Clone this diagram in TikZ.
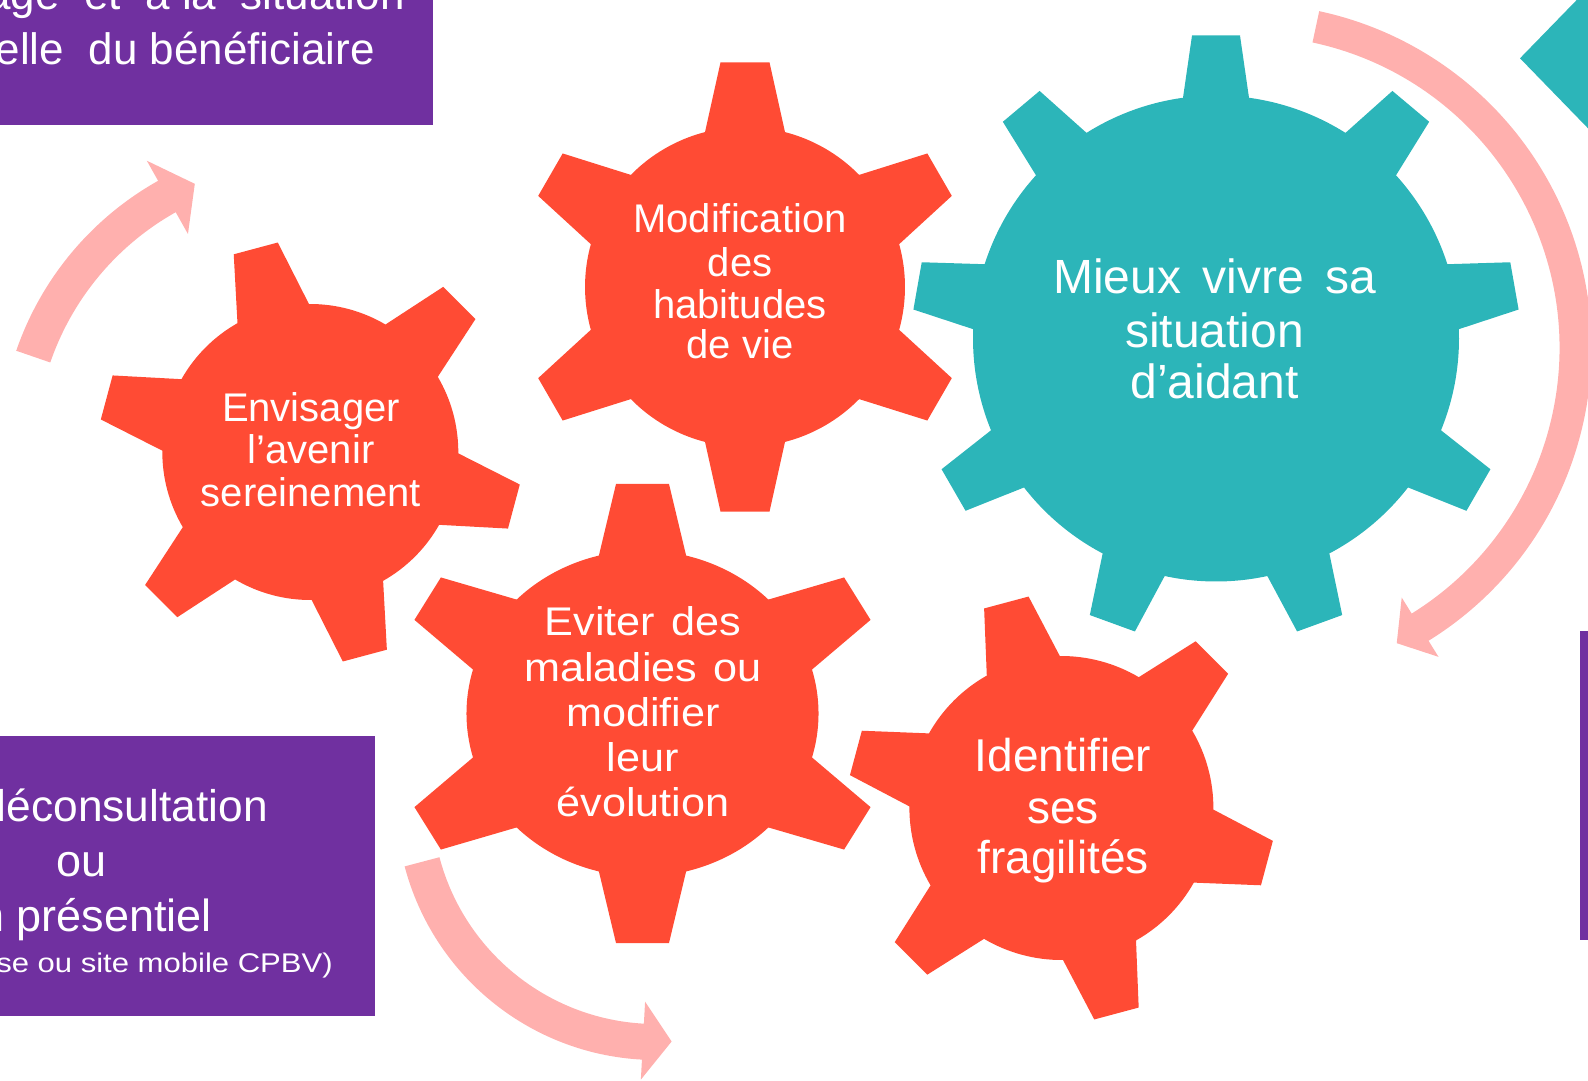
\documentclass[tikz,border=0pt]{standalone}
\usepackage{fontspec}
\setmainfont{Liberation Sans}
\definecolor{gearred}{RGB}{255,75,52}
\definecolor{gearteal}{RGB}{44,181,185}
\definecolor{boxpurple}{RGB}{112,48,160}
\definecolor{arrowpink}{RGB}{255,176,174}
% #1 scope options, #2 colour, #3 teeth, #4 tip radius, #5 body radius,
% #6 tip half width, #7 base half width, #8 angle of first tooth
\newcommand{\drawgear}[8]{%
  \begin{scope}[#1]
  \pgfmathsetmacro\gstep{360/#3}
  \pgfmathsetmacro\gat{asin(#6/#4)}
  \pgfmathsetmacro\gab{asin(#7/#5)}
  \pgfmathtruncatemacro\glast{#3-1}
  \fill[#2] ({#8-\gab}:#5)
    \foreach \k in {0,...,\glast}{
      -- ({#8+\k*\gstep-\gat}:#4) -- ({#8+\k*\gstep+\gat}:#4) -- ({#8+\k*\gstep+\gab}:#5)
      arc[start angle={#8+\k*\gstep+\gab}, end angle={#8+(\k+1)*\gstep-\gab}, radius=#5]
    } -- cycle;
  \end{scope}}
\tikzset{
  gtxt/.style={text=white, inner sep=0pt, anchor=base},
  btxt/.style={text=white, inner sep=0pt, anchor=base east},
  arrowfill/.style={fill=arrowpink},
}
\begin{document}
\begin{tikzpicture}[x=1pt,y=-1pt]
\useasboundingbox (0,0) rectangle (1588,1081);
\clip (0,0) rectangle (1588,1081);

% purple boxes
\fill[boxpurple] (0,0) rectangle (433,125);
\fill[boxpurple] (0,736) rectangle (375,1016);
\fill[boxpurple] (1580,631) rectangle (1588,940);

\node[btxt, font=\fontsize{44}{52}\selectfont] (tl1) at (405,9.3) {age\ \ et\ \ à la\ \ situation};
\node[btxt, font=\fontsize{44}{52}\selectfont] (tl2) at (375,65) {elle\ \ du bénéficiaire};

\node[btxt, font=\fontsize{44.3}{54}\selectfont] (bl1) at (268,821.7) {léconsultation};
\node[gtxt, font=\fontsize{45}{54}\selectfont] (bl2) at (82,876.7) {ou};
\node[btxt, font=\fontsize{45}{54}\selectfont] (bl3) at (212,931.7) {en présentiel};
\node[btxt, font=\fontsize{27}{32}\selectfont, xscale=1.15, transform shape] (bl4) at (333,972) {se ou site mobile CPBV)};

% teal corner shape (top right)
\fill[gearteal] (1576.7,0) -- (1520,58.3) -- (1588,128.3) -- (1588,0) -- cycle;

% pink curved arrows
\begin{scope}[shift={(310.3,452)}]
\fill[arrowfill] (-161:275) arc[start angle=-161,end angle=-119.3,radius=275]
  -- (-119.3:250) -- (-113.3:292) -- (-119.3:334) -- (-119.3:311)
  arc[start angle=-119.3,end angle=-161,radius=311] -- cycle;
\end{scope}
\begin{scope}[shift={(656,800)}]
\fill[arrowfill] (165.2:224) arc[start angle=165.2,end angle=93.1,radius=224]
  -- (93.1:202) -- (86.3:242) -- (93.1:280) -- (93.1:260)
  arc[start angle=93.1,end angle=165.2,radius=260] -- cycle;
\end{scope}
\begin{scope}[shift={(1247,348)}]
\fill[arrowfill] (-77.9:312.5) arc[start angle=-77.9,end angle=58.2,radius=312.5]
  -- (58.2:293.6) -- (63.1:331) -- (58.2:363.4) -- (58.2:344.5)
  arc[start angle=58.2,end angle=-77.9,radius=344.5] -- cycle;
\end{scope}

% gears
\drawgear{shift={(745,287)}}{gearred}{6}{226}{160}{24.5}{40}{90}
\drawgear{shift={(1216,338.5)}}{gearteal}{9}{304}{243}{24}{33}{-90}
\drawgear{shift={(310.3,452)}}{gearred}{6}{212}{148}{22.8}{37}{-105}
\drawgear{shift={(642.5,713.5)},xscale=1.08}{gearred}{6}{231}{163}{24.5}{40.4}{90}
\drawgear{shift={(1061.4,808)}}{gearred}{6}{214}{152}{23}{37.8}{-105}

% gear texts
\begin{scope}[font=\fontsize{40}{48}\selectfont]
\node[gtxt] (m1) at (740,232.7) {Modification};
\node[gtxt] (m2) at (740,276.7) {des};
\node[gtxt] (m3) at (740,318.3) {habitudes};
\node[gtxt] (m4) at (740,358.3) {de vie};
\end{scope}

\begin{scope}[font=\fontsize{48}{56}\selectfont]
\node[gtxt] (v1) at (1214.5,293.6) {Mieux\hspace{8pt} vivre\hspace{8pt} sa};
\node[gtxt] (v2) at (1214.5,347.4) {situation};
\node[gtxt] (v3) at (1214.5,398.8) {d’aidant};
\end{scope}

\begin{scope}[font=\fontsize{40}{48}\selectfont]
\node[gtxt] (e1) at (311,421.7) {Envisager};
\node[gtxt] (e2) at (311,463.3) {l’avenir};
\node[gtxt] (e3) at (311,506) {sereinement};
\end{scope}

\begin{scope}[font=\fontsize{40}{48}\selectfont]
\node[gtxt, xscale=1.08, transform shape] (ev1) at (643,635.7) {Eviter\hspace{4pt} des};
\node[gtxt, xscale=1.08, transform shape] (ev2) at (643,681) {maladies\hspace{4pt} ou};
\node[gtxt, xscale=1.08, transform shape] (ev3) at (643,726.7) {modifier};
\node[gtxt, xscale=1.08, transform shape] (ev4) at (643,771.7) {leur};
\node[gtxt, xscale=1.08, transform shape] (ev5) at (643,816.7) {évolution};
\end{scope}

\begin{scope}[font=\fontsize{46}{54}\selectfont]
\node[gtxt] (f1) at (1063,771.7) {Identifier};
\node[gtxt] (f2) at (1063,823.3) {ses};
\node[gtxt] (f3) at (1063,873.3) {fragilités};
\end{scope}
\end{tikzpicture}
\end{document}
